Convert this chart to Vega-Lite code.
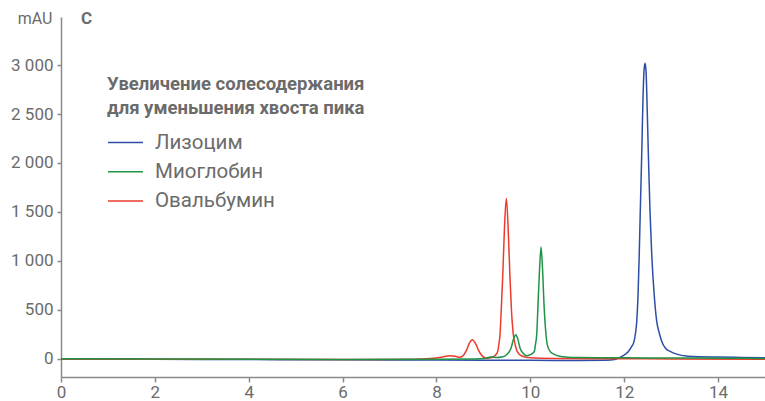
{
  "$schema": "https://vega.github.io/schema/vega-lite/v6.json",
  "width": 704,
  "height": 360,
  "autosize": {"type": "none"},
  "padding": {"left": 61, "top": 17, "right": 0, "bottom": 24},
  "background": "white",
  "title": {
    "text": "C",
    "anchor": "start",
    "frame": "group",
    "dx": 20,
    "dy": 22,
    "offset": -9,
    "baseline": "alphabetic",
    "font": "Roboto",
    "fontSize": 17,
    "fontWeight": "bold",
    "color": "#6b6b6b"
  },
  "config": {
    "view": {"stroke": null},
    "font": "Roboto",
    "axis": {
      "grid": false,
      "domainColor": "#8a8a8a",
      "domainWidth": 1.5,
      "tickColor": "#8a8a8a",
      "tickWidth": 1.5,
      "labelColor": "#6b6b6b",
      "labelFont": "Roboto",
      "titleColor": "#6b6b6b",
      "titleFont": "Roboto",
      "titleFontWeight": "normal"
    }
  },
  "datasets": {
    "traces": [
      {"t": 0, "s": "Лизоцим", "v": 0},
      {"t": 2, "s": "Лизоцим", "v": -3},
      {"t": 4, "s": "Лизоцим", "v": -6},
      {"t": 6, "s": "Лизоцим", "v": -9},
      {"t": 8, "s": "Лизоцим", "v": -11},
      {"t": 10, "s": "Лизоцим", "v": -14},
      {"t": 11, "s": "Лизоцим", "v": -15},
      {"t": 11.6, "s": "Лизоцим", "v": -13},
      {"t": 11.8, "s": "Лизоцим", "v": -5},
      {"t": 11.95, "s": "Лизоцим", "v": 27},
      {"t": 12.09, "s": "Лизоцим", "v": 77},
      {"t": 12.15, "s": "Лизоцим", "v": 120},
      {"t": 12.21, "s": "Лизоцим", "v": 179},
      {"t": 12.24, "s": "Лизоцим", "v": 260},
      {"t": 12.267, "s": "Лизоцим", "v": 383},
      {"t": 12.295, "s": "Лизоцим", "v": 650},
      {"t": 12.32, "s": "Лизоцим", "v": 1063},
      {"t": 12.345, "s": "Лизоцим", "v": 1550},
      {"t": 12.373, "s": "Лизоцим", "v": 2083},
      {"t": 12.4, "s": "Лизоцим", "v": 2650},
      {"t": 12.425, "s": "Лизоцим", "v": 2960},
      {"t": 12.444, "s": "Лизоцим", "v": 3017},
      {"t": 12.465, "s": "Лизоцим", "v": 2940},
      {"t": 12.49, "s": "Лизоцим", "v": 2550},
      {"t": 12.515, "s": "Лизоцим", "v": 2083},
      {"t": 12.55, "s": "Лизоцим", "v": 1500},
      {"t": 12.587, "s": "Лизоцим", "v": 1063},
      {"t": 12.64, "s": "Лизоцим", "v": 650},
      {"t": 12.693, "s": "Лизоцим", "v": 383},
      {"t": 12.75, "s": "Лизоцим", "v": 260},
      {"t": 12.8, "s": "Лизоцим", "v": 179},
      {"t": 12.88, "s": "Лизоцим", "v": 110},
      {"t": 12.98, "s": "Лизоцим", "v": 77},
      {"t": 13.1, "s": "Лизоцим", "v": 52},
      {"t": 13.36, "s": "Лизоцим", "v": 27},
      {"t": 13.6, "s": "Лизоцим", "v": 22},
      {"t": 14, "s": "Лизоцим", "v": 20},
      {"t": 14.5, "s": "Лизоцим", "v": 16},
      {"t": 15, "s": "Лизоцим", "v": 12},

      {"t": 0, "s": "Овальбумин", "v": 0},
      {"t": 2, "s": "Овальбумин", "v": -2},
      {"t": 4, "s": "Овальбумин", "v": -4},
      {"t": 6, "s": "Овальбумин", "v": -5},
      {"t": 7.5, "s": "Овальбумин", "v": -2},
      {"t": 7.86, "s": "Овальбумин", "v": 5},
      {"t": 8.1, "s": "Овальбумин", "v": 18},
      {"t": 8.29, "s": "Овальбумин", "v": 34},
      {"t": 8.4, "s": "Овальбумин", "v": 28},
      {"t": 8.5, "s": "Овальбумин", "v": 17},
      {"t": 8.58, "s": "Овальбумин", "v": 40},
      {"t": 8.645, "s": "Овальбумин", "v": 95},
      {"t": 8.7, "s": "Овальбумин", "v": 160},
      {"t": 8.765, "s": "Овальбумин", "v": 197},
      {"t": 8.83, "s": "Овальбумин", "v": 160},
      {"t": 8.89, "s": "Овальбумин", "v": 95},
      {"t": 8.95, "s": "Овальбумин", "v": 45},
      {"t": 9.02, "s": "Овальбумин", "v": 15},
      {"t": 9.07, "s": "Овальбумин", "v": 5},
      {"t": 9.15, "s": "Овальбумин", "v": 12},
      {"t": 9.22, "s": "Овальбумин", "v": 25},
      {"t": 9.26, "s": "Овальбумин", "v": 40},
      {"t": 9.305, "s": "Овальбумин", "v": 78},
      {"t": 9.33, "s": "Овальбумин", "v": 150},
      {"t": 9.354, "s": "Овальбумин", "v": 248},
      {"t": 9.38, "s": "Овальбумин", "v": 500},
      {"t": 9.41, "s": "Овальбумин", "v": 820},
      {"t": 9.45, "s": "Овальбумин", "v": 1350},
      {"t": 9.489, "s": "Овальбумин", "v": 1641},
      {"t": 9.53, "s": "Овальбумин", "v": 1300},
      {"t": 9.567, "s": "Овальбумин", "v": 820},
      {"t": 9.6, "s": "Овальбумин", "v": 480},
      {"t": 9.638, "s": "Овальбумин", "v": 248},
      {"t": 9.68, "s": "Овальбумин", "v": 140},
      {"t": 9.72, "s": "Овальбумин", "v": 78},
      {"t": 9.82, "s": "Овальбумин", "v": 30},
      {"t": 10, "s": "Овальбумин", "v": 12},
      {"t": 10.5, "s": "Овальбумин", "v": 5},
      {"t": 12, "s": "Овальбумин", "v": 2},
      {"t": 13, "s": "Овальбумин", "v": 0},
      {"t": 15, "s": "Овальбумин", "v": -2},

      {"t": 0, "s": "Миоглобин", "v": 2},
      {"t": 2, "s": "Миоглобин", "v": 0},
      {"t": 4, "s": "Миоглобин", "v": -3},
      {"t": 6, "s": "Миоглобин", "v": -5},
      {"t": 8, "s": "Миоглобин", "v": -3},
      {"t": 8.8, "s": "Миоглобин", "v": 0},
      {"t": 9.0, "s": "Миоглобин", "v": 5},
      {"t": 9.1, "s": "Миоглобин", "v": 15},
      {"t": 9.18, "s": "Миоглобин", "v": 22},
      {"t": 9.28, "s": "Миоглобин", "v": 15},
      {"t": 9.4, "s": "Миоглобин", "v": 20},
      {"t": 9.5, "s": "Миоглобин", "v": 45},
      {"t": 9.59, "s": "Миоглобин", "v": 112},
      {"t": 9.64, "s": "Миоглобин", "v": 200},
      {"t": 9.69, "s": "Миоглобин", "v": 248},
      {"t": 9.735, "s": "Миоглобин", "v": 200},
      {"t": 9.78, "s": "Миоглобин", "v": 112},
      {"t": 9.85, "s": "Миоглобин", "v": 55},
      {"t": 9.92, "s": "Миоглобин", "v": 34},
      {"t": 9.98, "s": "Миоглобин", "v": 40},
      {"t": 10.04, "s": "Миоглобин", "v": 55},
      {"t": 10.086, "s": "Миоглобин", "v": 78},
      {"t": 10.11, "s": "Миоглобин", "v": 150},
      {"t": 10.136, "s": "Миоглобин", "v": 248},
      {"t": 10.165, "s": "Миоглобин", "v": 570},
      {"t": 10.195, "s": "Миоглобин", "v": 900},
      {"t": 10.228, "s": "Миоглобин", "v": 1142},
      {"t": 10.26, "s": "Миоглобин", "v": 920},
      {"t": 10.29, "s": "Миоглобин", "v": 570},
      {"t": 10.334, "s": "Миоглобин", "v": 248},
      {"t": 10.36, "s": "Миоглобин", "v": 150},
      {"t": 10.42, "s": "Миоглобин", "v": 78},
      {"t": 10.5, "s": "Миоглобин", "v": 50},
      {"t": 10.63, "s": "Миоглобин", "v": 27},
      {"t": 10.8, "s": "Миоглобин", "v": 18},
      {"t": 11, "s": "Миоглобин", "v": 14},
      {"t": 12, "s": "Миоглобин", "v": 12},
      {"t": 13, "s": "Миоглобин", "v": 10},
      {"t": 14, "s": "Миоглобин", "v": 8},
      {"t": 15, "s": "Миоглобин", "v": 6}
    ]
  },
  "data": {"name": "traces"},
  "encoding": {
    "x": {
      "field": "t",
      "type": "quantitative",
      "scale": {"domain": [0, 15], "nice": false, "zero": false},
      "axis": {
        "title": null,
        "values": [0, 2, 4, 6, 8, 10, 12, 14],
        "labelFontSize": 17,
        "tickSize": 5,
        "labelPadding": 2,
        "labelFlush": false
      }
    },
    "y": {
      "field": "v",
      "type": "quantitative",
      "scale": {"domain": [-184, 3490], "nice": false, "zero": false},
      "axis": {
        "title": "mAU",
        "titleAngle": 0,
        "titleAlign": "right",
        "titleBaseline": "middle",
        "titleX": -9,
        "titleY": 1,
        "titleFontSize": 16,
        "values": [0, 500, 1000, 1500, 2000, 2500, 3000],
        "labelExpr": "replace(format(datum.value, ',d'), ',', ' ')",
        "labelFontSize": 17,
        "tickSize": 4,
        "labelPadding": 4
      }
    },
    "color": {
      "field": "s",
      "type": "nominal",
      "scale": {
        "domain": ["Лизоцим", "Миоглобин", "Овальбумин"],
        "range": ["#2d4ea6", "#1f9446", "#ec3b2b"]
      },
      "legend": {
        "orient": "none",
        "legendX": 46,
        "legendY": 58,
        "title": ["Увеличение солесодержания", "для уменьшения хвоста пика"],
        "titleLimit": 500,
        "titleFontSize": 18.5,
        "titleFontWeight": "bold",
        "titleColor": "#6b6b6b",
        "titleLineHeight": 24,
        "titlePadding": 12,
        "symbolType": "stroke",
        "symbolSize": 1225,
        "symbolStrokeWidth": 1.5,
        "clipHeight": 26,
        "rowPadding": 3.3,
        "labelOffset": 11,
        "labelFontSize": 20.5,
        "labelLimit": 300,
        "labelColor": "#6b6b6b",
        "padding": 0,
        "encode": {
          "symbols": {
            "update": {
              "stroke": {"signal": "datum.label === 'Миоглобин' ? '#7ab648' : scale('color', datum.value)"}
            }
          }
        }
      }
    }
  },
  "layer": [
    {
      "transform": [{"filter": "datum.s === 'Лизоцим'"}],
      "mark": {"type": "line", "strokeWidth": 1.5, "interpolate": "monotone"}
    },
    {
      "transform": [{"filter": "datum.s === 'Овальбумин'"}],
      "mark": {"type": "line", "strokeWidth": 1.5, "interpolate": "monotone"}
    },
    {
      "transform": [{"filter": "datum.s === 'Миоглобин'"}],
      "mark": {"type": "line", "strokeWidth": 1.5, "interpolate": "monotone"}
    }
  ]
}
